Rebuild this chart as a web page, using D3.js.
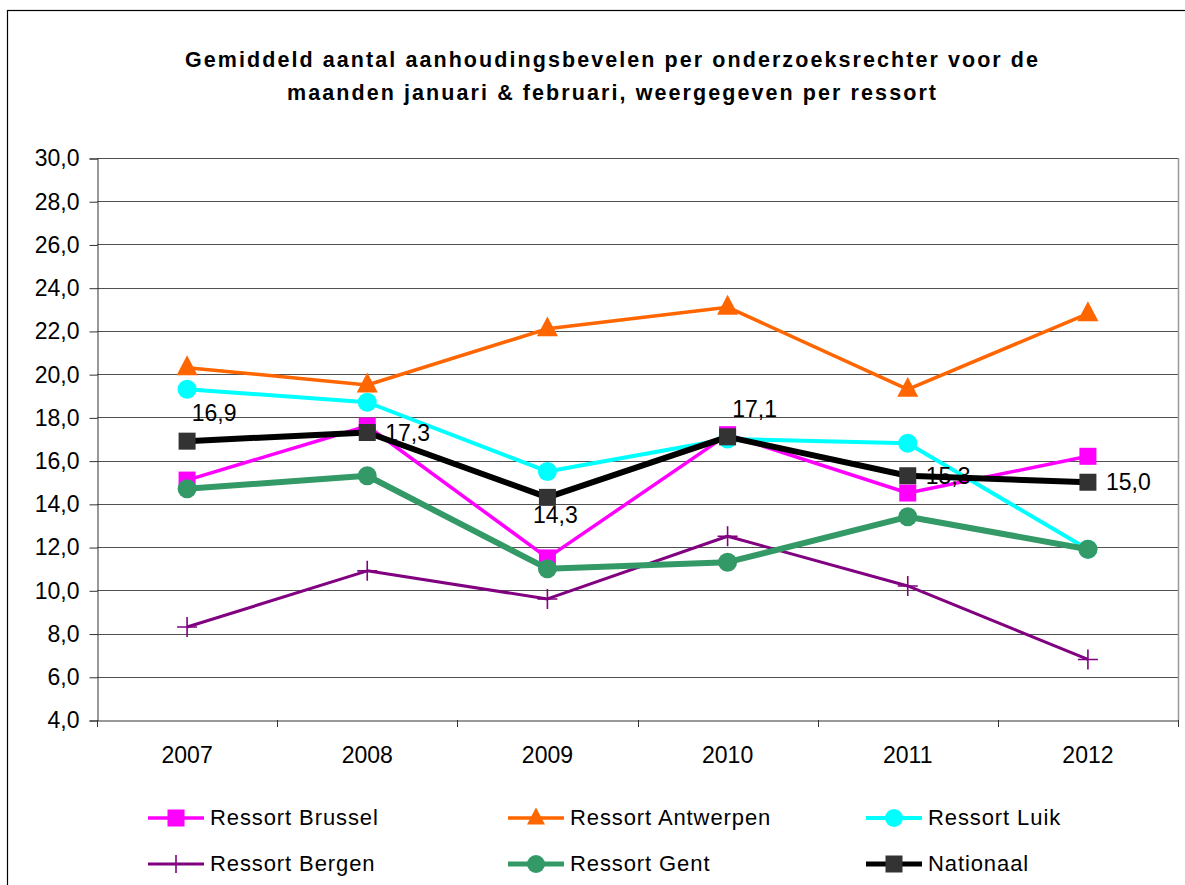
<!DOCTYPE html>
<html><head><meta charset="utf-8">
<script src="https://cdn.jsdelivr.net/npm/d3@7"></script>
<style>body{margin:0;background:#fff;} svg{display:block;font-family:"Liberation Sans",Arial,sans-serif;}</style>
</head><body><div id="chart"></div>
<script>
const years = ["2007","2008","2009","2010","2011","2012"];
const brussel   = [15.1, 17.6, 11.5, 17.2, 14.5, 16.2];
const antwerpen = [20.3, 19.5, 22.1, 23.1, 19.3, 22.8];
const luik      = [19.3, 18.7, 15.5, 17.0, 16.8, 11.9];
const bergen    = [8.3, 10.9, 9.6, 12.5, 10.2, 6.8];
const gent      = [14.7, 15.3, 11.0, 11.3, 13.4, 11.9];
const nationaal = [16.9, 17.3, 14.3, 17.1, 15.3, 15.0];
const nationaalLabels = ["16,9","17,3","14,3","17,1","15,3","15,0"];
const labelPlacement = ["above","right","below","above","right","right"];
const yTicks = [4,6,8,10,12,14,16,18,20,22,24,26,28,30];
const seriesNames = ["Ressort Brussel","Ressort Antwerpen","Ressort Luik","Ressort Bergen","Ressort Gent","Nationaal"];
const titleLines = ["Gemiddeld aantal aanhoudingsbevelen per onderzoeksrechter voor de",
                    "maanden januari & februari, weergegeven per ressort"];

const W = 1185, H = 885;
const plot = {left: 97, right: 1178, top: 158, bottom: 720};
const svg = d3.select("#chart").append("svg").attr("width", W).attr("height", H);
const FONT = "Liberation Sans, Arial, sans-serif";

// outer border
svg.append("rect").attr("x",7.5).attr("y",10.5).attr("width",W+20).attr("height",H+20)
  .attr("fill","#fff").attr("stroke","#000").attr("stroke-width",1.2);

// title
const titleY = [67, 100];
const titleLen = [853, 649];
titleLines.forEach((t,i)=>{
  svg.append("text").attr("x",611.5).attr("y",titleY[i]).attr("text-anchor","middle")
    .attr("font-weight","bold").attr("font-size","21.5px").attr("fill","#000")
    .attr("textLength",titleLen[i]).attr("lengthAdjust","spacing").text(t);
});

const x = d3.scaleBand().domain(years).range([plot.left, plot.right]).padding(0);
const y = d3.scaleLinear().domain([4,30]).range([plot.bottom, plot.top]);
const cx = d => x(d) + x.bandwidth()/2;

// gridlines
svg.append("g").selectAll("line").data(yTicks.slice(1)).join("line")
  .attr("x1",plot.left).attr("x2",plot.right)
  .attr("y1",d=>Math.round(y(d))+0.5).attr("y2",d=>Math.round(y(d))+0.5)
  .attr("stroke","#505050").attr("stroke-width",1);
// right border of plot
svg.append("line").attr("x1",plot.right+0.5).attr("x2",plot.right+0.5)
  .attr("y1",plot.top).attr("y2",plot.bottom).attr("stroke","#999").attr("stroke-width",1.5);

// y axis
const yAxis = d3.axisLeft(y).tickValues(yTicks).tickSize(8).tickPadding(10)
  .tickFormat(d => d3.format(".1f")(d).replace(".",","));
const gy = svg.append("g").attr("transform",`translate(${plot.left+0.5},0.5)`).call(yAxis);
gy.selectAll("text").attr("font-size","23px").attr("fill","#000").attr("font-family",FONT);
gy.selectAll("line,path").attr("stroke","#333");

// x axis
const xAxis = d3.axisBottom(x).tickSize(0).tickPadding(26);
const gx = svg.append("g").attr("transform",`translate(0,${plot.bottom+0.5})`).call(xAxis);
gx.selectAll("text").attr("font-size","23px").attr("fill","#000").attr("font-family",FONT);
gx.select("path").attr("stroke","#333");
// category boundary ticks
const bounds = years.map(d=>x(d)).concat([plot.right]);
svg.append("g").selectAll("line").data(bounds).join("line")
  .attr("x1",d=>Math.round(d)+0.5).attr("x2",d=>Math.round(d)+0.5)
  .attr("y1",plot.bottom).attr("y2",plot.bottom+7).attr("stroke","#333");

const series = [
  {name: seriesNames[0], values: brussel,   color:"#FF00FF", width:3.5, marker:"square",   mcolor:"#FF00FF", size:17},
  {name: seriesNames[1], values: antwerpen, color:"#FF6600", width:3.5, marker:"triangle", mcolor:"#FF6600", size:21},
  {name: seriesNames[2], values: luik,      color:"#00FFFF", width:4,   marker:"circle",   mcolor:"#00FFFF", size:19},
  {name: seriesNames[3], values: bergen,    color:"#800080", width:3,   marker:"plus",     mcolor:"#800080", size:20},
  {name: seriesNames[4], values: gent,      color:"#339966", width:6,   marker:"circle",   mcolor:"#339966", size:19},
  {name: seriesNames[5], values: nationaal, color:"#000000", width:6,   marker:"square",   mcolor:"#333333", size:17}
];

function drawMarker(g, type, px, py, s, color){
  if(type==="square"){
    g.append("rect").attr("x",px-s/2).attr("y",py-s/2).attr("width",s).attr("height",s).attr("fill",color);
  } else if(type==="circle"){
    g.append("circle").attr("cx",px).attr("cy",py).attr("r",s/2).attr("fill",color);
  } else if(type==="triangle"){
    const h = s*0.95;
    g.append("path").attr("d",`M${px},${py-h*0.62}L${px+s/2},${py+h*0.38}L${px-s/2},${py+h*0.38}Z`).attr("fill",color);
  } else if(type==="plus"){
    g.append("path").attr("d",`M${px-s/2},${py}H${px+s/2}M${px},${py-s/2}V${py+s/2}`)
      .attr("stroke",color).attr("stroke-width",1.6).attr("fill","none");
  }
}

const line = d3.line().x((d,i)=>cx(years[i])).y(d=>y(d));
series.forEach(s=>{
  const g = svg.append("g");
  g.append("path").datum(s.values).attr("d",line).attr("fill","none")
    .attr("stroke",s.color).attr("stroke-width",s.width).attr("stroke-linejoin","round");
  s.values.forEach((v,i)=>drawMarker(g, s.marker, cx(years[i]), y(v), s.size, s.mcolor));
});

// data labels for Nationaal
const lg = svg.append("g");
nationaal.forEach((v,i)=>{
  const px = cx(years[i]), py = y(v);
  let tx, ty, anchor;
  if(labelPlacement[i]==="above"){ tx = px+27; ty = py-20; anchor="middle"; }
  else if(labelPlacement[i]==="below"){ tx = px+8; ty = py+26; anchor="middle"; }
  else { tx = px+18; ty = py+8; anchor="start"; }
  lg.append("text").attr("x",tx).attr("y",ty).attr("text-anchor",anchor)
    .attr("font-size","23px").attr("fill","#000").text(nationaalLabels[i]);
});

// legend
const legCols = [148, 508, 866];
const legRows = [818, 864];
series.forEach((s,i)=>{
  const lx = legCols[i%3], ly = legRows[Math.floor(i/3)];
  const g = svg.append("g");
  g.append("line").attr("x1",lx).attr("x2",lx+56).attr("y1",ly).attr("y2",ly)
    .attr("stroke",s.color).attr("stroke-width",Math.min(s.width,5));
  drawMarker(g, s.marker, lx+28, ly, Math.min(s.size,18), s.mcolor);
  g.append("text").attr("x",lx+62).attr("y",ly+7).attr("font-size","22px")
    .attr("letter-spacing","0.9px").attr("fill","#000").text(s.name);
});
</script></body></html>
